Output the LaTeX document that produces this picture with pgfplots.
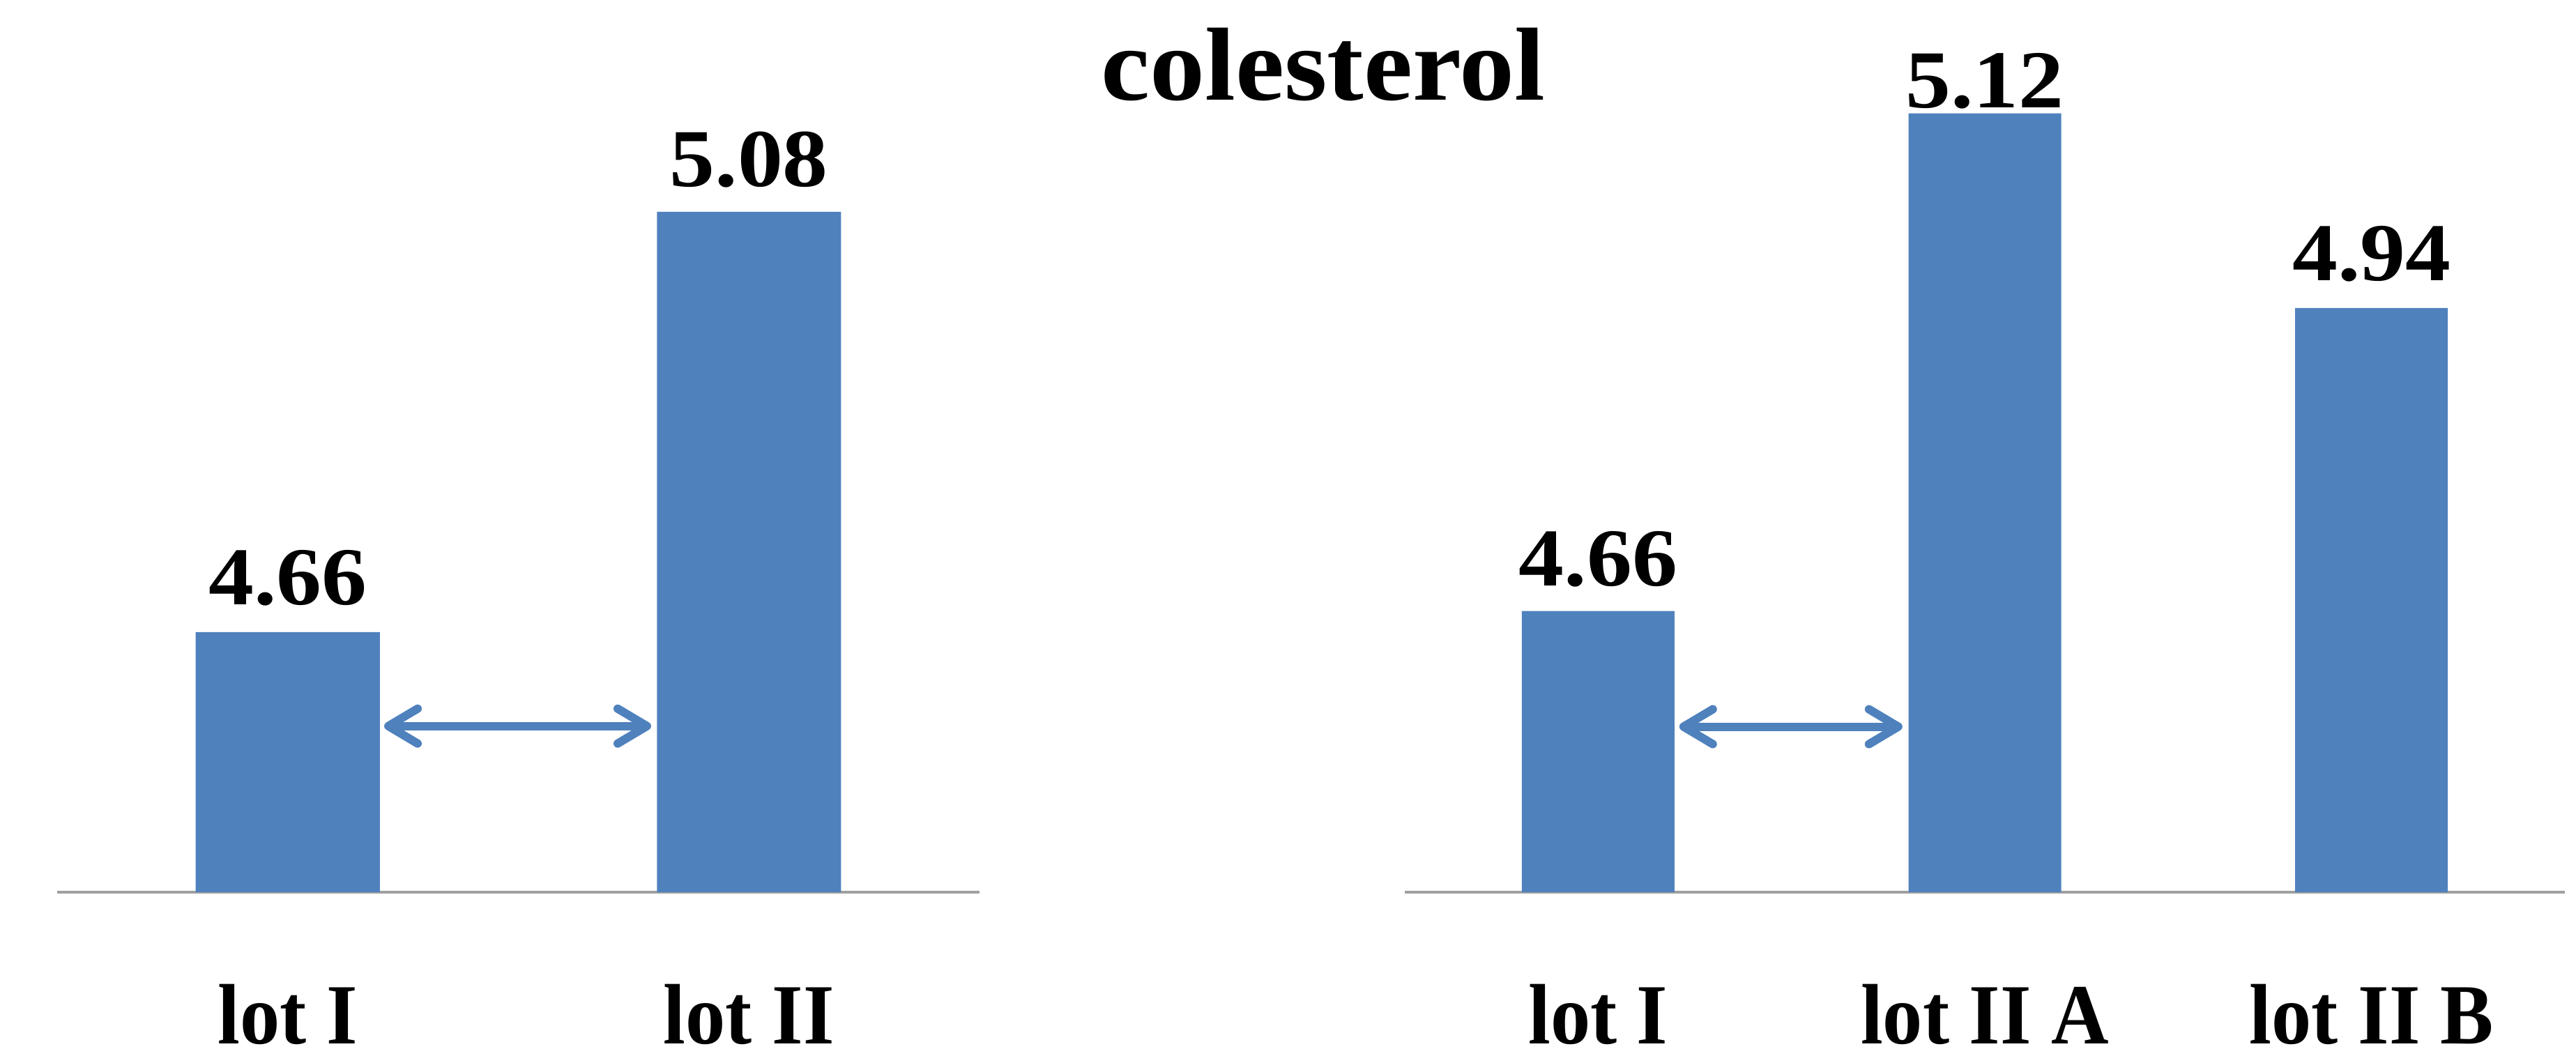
\documentclass[border=0pt]{standalone}
\usepackage{fontspec}
\setmainfont{Liberation Serif}
\newfontfamily\titlefont{Liberation Serif}[FakeStretch=1.06]
\newfontfamily\labfont{Liberation Serif}[FakeStretch=0.93]
\newfontfamily\valfont{Liberation Serif}[FakeStretch=1.1]
\usepackage{pgfplots}
\pgfplotsset{compat=1.18}
\usepackage{pgfplotstable}
\usetikzlibrary{arrows.meta}
\definecolor{barblue}{RGB}{79,129,189}
\definecolor{axisgray}{RGB}{160,160,160}

\pgfplotstableread{
x y dy
0 4.66 3.9
1 5.08 3.6
}\tabA
\pgfplotstableread{
x y dy
0 4.66 3.6
1 5.12 0.8
2 4.94 3.9
}\tabB

\pgfplotsset{
  mystyle/.style={
    scale only axis, anchor=south west, ymin=4.4,
    axis x line*=bottom, axis y line=none,
    x axis line style={draw=axisgray, line width=0.35pt, -},
    major tick length=0pt, ytick=\empty,
    ybar, xtick={0,1,2},
    xticklabel style={font=\labfont\bfseries\fontsize{12.3}{14}\selectfont, anchor=base, yshift=-21.7pt, inner sep=0pt},
    nodes near coords,
    visualization depends on={\thisrow{dy} \as \dy},
    every node near coord/.append style={font=\valfont\bfseries\fontsize{11.8}{14}\selectfont, anchor=base, inner sep=0pt, text=black, yshift=\dy pt},
    point meta=y,
    /pgf/number format/fixed, /pgf/number format/fixed zerofill,
    /pgf/number format/precision=2, /pgf/number format/assume math mode=true,
  },
}
\tikzset{
  myarrow/.style={draw=barblue, line width=1.2pt, line cap=round,
    {Straight Barb[length=4.2pt,width=5pt,round]}-{Straight Barb[length=4.2pt,width=5pt,round]}},
}

\begin{document}
\begin{tikzpicture}
\path[use as bounding box] (0,0) rectangle (369.5pt,-150.4pt);

\node[font=\titlefont\bfseries\fontsize{14.9}{17}\selectfont, anchor=base, inner sep=0pt] at (189.8pt,-14.3pt) {colesterol};

\begin{axis}[mystyle, at={(8.2pt,-128pt)}, width=132.3pt, height=125pt,
  xmin=-0.5, xmax=1.5, ymax=5.2707, bar width=26.4pt,
  xticklabels={lot I, lot II}]
\addplot[draw=none, fill=barblue] table[x=x, y=y] {\tabA};
\draw[myarrow] (axis cs:0.209,4.566) -- (axis cs:0.788,4.566);
\end{axis}

\begin{axis}[mystyle, at={(201.5pt,-128pt)}, width=166.4pt, height=125pt,
  xmin=-0.5, xmax=2.5, ymax=5.2054, bar width=21.9pt,
  xticklabels={lot I, lot II A, lot II B}]
\addplot[draw=none, fill=barblue] table[x=x, y=y] {\tabB};
\draw[myarrow] (axis cs:0.21,4.553) -- (axis cs:0.787,4.553);
\end{axis}
\end{tikzpicture}
\end{document}
